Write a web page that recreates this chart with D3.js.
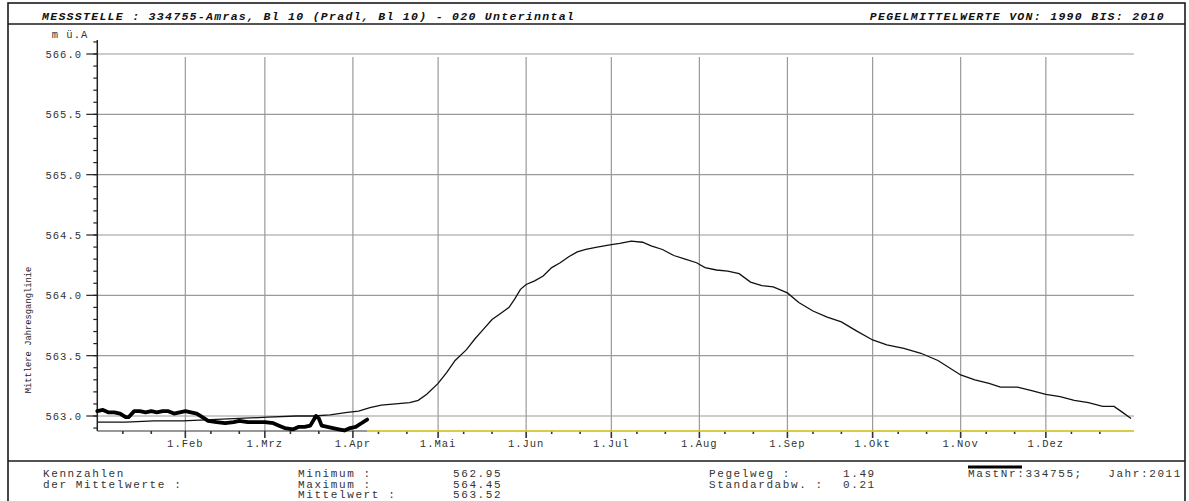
<!DOCTYPE html>
<html>
<head>
<meta charset="utf-8">
<script src="https://cdn.jsdelivr.net/npm/d3@7"></script>
<style>
  html, body { margin: 0; padding: 0; background: #fff; }
  svg { display: block; }
  text { font-family: "Liberation Mono", "DejaVu Sans Mono", monospace; }
</style>
</head>
<body>
<svg id="chart" width="1189" height="501"></svg>
<script>
// Mean annual water level curve 1990-2010 (day of year, m ü.A)
const meanDays = [0,10,20,30,40,50,60,70,76,82,88,92,96,100,105,110,113,116,120,123,126,130,133,136,139,142,145,147,149,151,154,157,160,163,166,169,172,176,181,184,188,192,195,199,203,207,211,214,218,222,226,230,234,238,243,247,252,257,262,267,273,278,284,290,296,304,309,314,318,324,329,334,339,344,349,354,358,361,364];
const meanValues = [562.95,562.95,562.96,562.96,562.97,562.98,562.99,563.00,563.00,563.01,563.03,563.04,563.07,563.09,563.10,563.11,563.13,563.18,563.27,563.36,563.46,563.55,563.64,563.72,563.80,563.85,563.90,563.97,564.05,564.09,564.12,564.16,564.23,564.27,564.32,564.36,564.38,564.40,564.42,564.43,564.45,564.44,564.41,564.38,564.33,564.30,564.27,564.23,564.21,564.20,564.18,564.11,564.08,564.07,564.02,563.94,563.87,563.82,563.78,563.71,563.63,563.59,563.56,563.52,563.46,563.34,563.30,563.27,563.24,563.24,563.21,563.18,563.16,563.13,563.11,563.08,563.08,563.03,562.98];

// Current year 2011 (day of year, m ü.A)
const yearDays = [0,2,4,6,8,10,11,13,15,17,19,21,23,25,27,29,31,33,35,37,39,42,45,48,50,53,56,59,62,64,66,69,71,73,75,77,78,79,81,83,85,87,89,91,93,95];
const yearValues = [563.04,563.05,563.03,563.03,563.02,562.99,562.99,563.04,563.04,563.03,563.04,563.03,563.04,563.04,563.02,563.03,563.04,563.03,563.02,562.99,562.96,562.95,562.94,562.95,562.96,562.95,562.95,562.95,562.94,562.92,562.90,562.89,562.91,562.91,562.92,563.00,562.98,562.92,562.91,562.90,562.89,562.88,562.90,562.91,562.94,562.97];

// Month starts (day of year) and their labels
const monthStarts = [31,59,90,120,151,181,212,243,273,304,334];
const monthLabels = ["1.Feb","1.Mrz","1.Apr","1.Mai","1.Jun","1.Jul","1.Aug","1.Sep","1.Okt","1.Nov","1.Dez"];
const allMonthStarts = [0].concat(monthStarts);

// Y axis ticks
const yMajorTicks = [563.0,563.5,564.0,564.5,565.0,565.5,566.0];

// Header and statistics texts
const headerLeft = "MESSSTELLE : 334755-Amras, Bl 10 (Pradl, Bl 10) - 020 Unterinntal";
const headerRight = "PEGELMITTELWERTE VON: 1990 BIS: 2010";
const statsTitle = ["Kennzahlen", "der Mittelwerte :"];
const statsNames = ["Minimum :", "Maximum :", "Mittelwert :"];
const statsValues = ["562.95", "564.45", "563.52"];
const spreadNames = ["Pegelweg :", "Standardabw. :"];
const spreadValues = ["1.49", "0.21"];
const stationId = "334755";
const year = "2011";

const svg = d3.select("#chart");

const x = d3.scaleLinear().domain([0, 365]).range([97.3, 1133.9]);
const y = d3.scaleLinear().domain([563, 566]).range([416, 54]);
const yBottom = 431, yTop = 40;

// Frame
const frame = svg.append("g").attr("stroke", "#1a1a1a").attr("stroke-width", 1.6).attr("fill", "none");
frame.append("rect").attr("x", 8).attr("y", 3).attr("width", 1177).attr("height", 510);
frame.append("line").attr("x1", 8).attr("x2", 1185).attr("y1", 24).attr("y2", 24);
frame.append("line").attr("x1", 8).attr("x2", 1185).attr("y1", 461).attr("y2", 461);

// Header
svg.append("text").attr("x", 42).attr("y", 20)
  .attr("font-size", 11.5).attr("font-weight", "bold").attr("font-style", "italic")
  .attr("letter-spacing", 1.3).attr("fill", "#111").text(headerLeft);
svg.append("text").attr("x", 1165).attr("y", 20).attr("text-anchor", "end")
  .attr("font-size", 11.5).attr("font-weight", "bold").attr("font-style", "italic")
  .attr("letter-spacing", 1.3).attr("fill", "#111").text(headerRight);

// Horizontal grid
svg.append("g").selectAll("line").data(yMajorTicks).join("line")
  .attr("x1", x(0)).attr("x2", x(365))
  .attr("y1", d => y(d)).attr("y2", d => y(d))
  .attr("stroke", "#9a9a9a").attr("stroke-width", 1.2);

// Vertical grid (month starts)
svg.append("g").selectAll("line").data(monthStarts).join("line")
  .attr("x1", d => x(d)).attr("x2", d => x(d))
  .attr("y1", y(566) + 3).attr("y2", yBottom)
  .attr("stroke", "#9a9a9a").attr("stroke-width", 1.2);

// Y axis with major and minor ticks
const yAxisG = svg.append("g").attr("stroke", "#222");
yAxisG.append("line").attr("x1", x(0)).attr("x2", x(0)).attr("y1", yTop).attr("y2", yBottom).attr("stroke-width", 1.5);
const minorY = d3.range(563.0, 566.1, 0.1).map(v => +v.toFixed(1)).concat([562.9]);
yAxisG.selectAll("line.minor").data(minorY).join("line").attr("class", "minor")
  .attr("x1", x(0) - 4).attr("x2", x(0))
  .attr("y1", d => y(d)).attr("y2", d => y(d)).attr("stroke-width", 1.2);
yAxisG.selectAll("line.major").data(yMajorTicks).join("line").attr("class", "major")
  .attr("x1", x(0) - 11).attr("x2", x(0))
  .attr("y1", d => y(d)).attr("y2", d => y(d)).attr("stroke-width", 1.2);
svg.append("g").selectAll("text").data(yMajorTicks).join("text")
  .attr("x", 82).attr("y", d => y(d) + 4).attr("text-anchor", "end")
  .attr("font-size", 10.5).attr("letter-spacing", 1).attr("fill", "#333")
  .text(d => d.toFixed(1));
svg.append("text").attr("x", 70).attr("y", 38).attr("text-anchor", "middle")
  .attr("font-size", 10.5).attr("letter-spacing", 1).attr("fill", "#333").text("m ü.A");

// Y axis title
svg.append("text").attr("transform", "translate(31,330) rotate(-90)")
  .attr("text-anchor", "middle").attr("font-size", 8.8).attr("fill", "#222")
  .text("Mittlere Jahresganglinie");

// X axis: base line, month ticks, minor ticks
const xAxisG = svg.append("g").attr("stroke", "#333");
xAxisG.append("line").attr("x1", x(0)).attr("x2", x(365)).attr("y1", yBottom).attr("y2", yBottom).attr("stroke-width", 1.2);
xAxisG.selectAll("line.major").data(monthStarts).join("line").attr("class", "major")
  .attr("x1", d => x(d)).attr("x2", d => x(d))
  .attr("y1", yBottom).attr("y2", yBottom + 7).attr("stroke-width", 1.6);
const minorX = allMonthStarts.flatMap(m => [m + 9, m + 19]);
xAxisG.selectAll("line.minor").data(minorX).join("line").attr("class", "minor")
  .attr("x1", d => x(d)).attr("x2", d => x(d))
  .attr("y1", yBottom).attr("y2", yBottom + 3).attr("stroke-width", 1.6);
svg.append("g").selectAll("text").data(monthStarts).join("text")
  .attr("x", (d, i) => x(d)).attr("y", 447).attr("text-anchor", "middle")
  .attr("font-size", 10.5).attr("letter-spacing", 1).attr("fill", "#333")
  .text((d, i) => monthLabels[i]);

// Period without current-year data
const lastDay = yearDays[yearDays.length - 1];
svg.append("line").attr("x1", x(lastDay)).attr("x2", x(365))
  .attr("y1", yBottom).attr("y2", yBottom)
  .attr("stroke", "#f2dc2a").attr("stroke-width", 1.6);

// Mean curve
const meanData = meanDays.map((d, i) => [d, meanValues[i]]);
const yearData = yearDays.map((d, i) => [d, yearValues[i]]);
const line = d3.line().x(d => x(d[0])).y(d => y(d[1]));
svg.append("path").datum(meanData).attr("d", line)
  .attr("fill", "none").attr("stroke", "#111").attr("stroke-width", 1.3);

// Current year curve
svg.append("path").datum(yearData).attr("d", line)
  .attr("fill", "none").attr("stroke", "#000").attr("stroke-width", 3.8)
  .attr("stroke-linejoin", "round").attr("stroke-linecap", "round");

// Statistics block
const stat = (tx, ty, s) => svg.append("text").attr("x", tx).attr("y", ty)
  .attr("font-size", 11).attr("letter-spacing", 1.6).attr("fill", "#333").text(s);
const rows = [476.5, 487.5, 498];
statsTitle.forEach((s, i) => stat(43, rows[i], s));
statsNames.forEach((s, i) => stat(298, rows[i], s));
statsValues.forEach((s, i) => stat(453, rows[i], s));
spreadNames.forEach((s, i) => stat(709, rows[i], s));
spreadValues.forEach((s, i) => stat(843, rows[i], s));
stat(968, rows[0], "MastNr:" + stationId + ";");
svg.append("text").attr("x", 1182).attr("y", rows[0]).attr("text-anchor", "end")
  .attr("font-size", 11).attr("letter-spacing", 1.6).attr("fill", "#333").text("Jahr:" + year);
// Legend sample for the current-year curve
svg.append("line").attr("x1", 968).attr("x2", 1022).attr("y1", 467).attr("y2", 467)
  .attr("stroke", "#000").attr("stroke-width", 3);
</script>
</body>
</html>
